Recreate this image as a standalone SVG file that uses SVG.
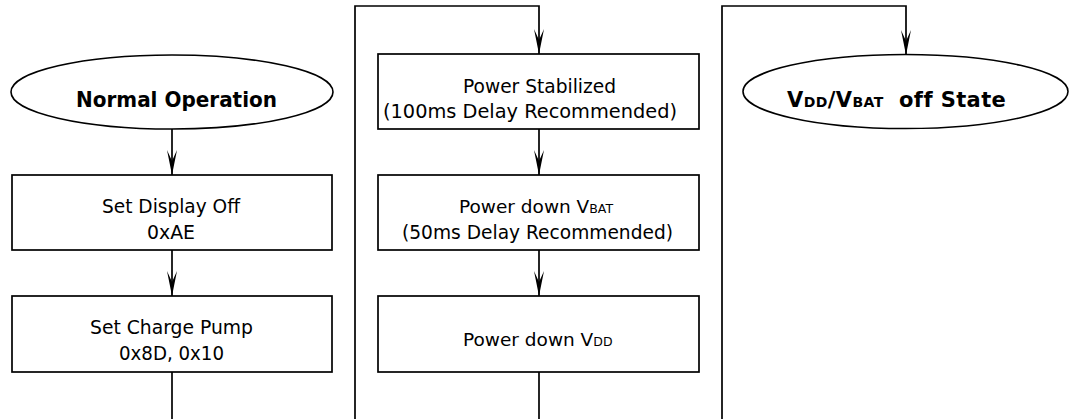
<svg xmlns="http://www.w3.org/2000/svg" width="1076" height="419" viewBox="0 0 1076 419">
<style>
.box{fill:#fff;stroke:#000;stroke-width:1.7}
.ell{fill:#fff;stroke:#000;stroke-width:1.6}
.t{font-family:"DejaVu Sans",sans-serif;font-size:20px;fill:#000}
.t2{font-family:"DejaVu Sans",sans-serif;font-size:18.5px;fill:#000}
.b{font-family:"DejaVu Sans",sans-serif;font-weight:bold;font-size:21px;fill:#000}
.s{font-size:12.5px}
.sb{font-size:14px}
.c{fill:none;stroke:#000;stroke-width:1.7}
</style>
<defs>
<marker id="ah" viewBox="0 0 25 10" refX="25" refY="5" markerWidth="25" markerHeight="10" markerUnits="userSpaceOnUse" orient="auto">
<path d="M0,0 L25,5 L0,10 L11,5 Z" fill="#000"/>
</marker>
</defs>
<rect width="1076" height="419" fill="#fff"/>
<g id="connectors">
<path class="c" d="M172,129 V175" marker-end="url(#ah)"/>
<path class="c" d="M172,250 V296" marker-end="url(#ah)"/>
<path class="c" d="M172,372 V419"/>
<path class="c" d="M355,419 V6 H539 V54" marker-end="url(#ah)"/>
<path class="c" d="M539,129 V175" marker-end="url(#ah)"/>
<path class="c" d="M539,250 V296" marker-end="url(#ah)"/>
<path class="c" d="M539,372 V419"/>
<path class="c" d="M722,419 V6 H906 V55" marker-end="url(#ah)"/>
</g>
<g id="normal-operation">
<ellipse class="ell" cx="172" cy="92" rx="161" ry="37"/>
<text class="b" x="76" y="107" textLength="201" lengthAdjust="spacingAndGlyphs">Normal Operation</text>
</g>
<g id="set-display-off">
<rect class="box" x="12" y="175" width="320" height="75"/>
<text class="t" x="102" y="213" textLength="138" lengthAdjust="spacingAndGlyphs">Set Display Off</text>
<text class="t" x="147" y="239" textLength="48" lengthAdjust="spacingAndGlyphs">0xAE</text>
</g>
<g id="set-charge-pump">
<rect class="box" x="12" y="296" width="320" height="76"/>
<text class="t" x="90" y="334" textLength="163" lengthAdjust="spacingAndGlyphs">Set Charge Pump</text>
<text class="t" x="119" y="360" textLength="105" lengthAdjust="spacingAndGlyphs">0x8D, 0x10</text>
</g>
<g id="power-stabilized">
<rect class="box" x="378" y="54" width="321" height="75"/>
<text class="t" x="463" y="93" textLength="153" lengthAdjust="spacingAndGlyphs">Power Stabilized</text>
<text class="t" x="383" y="118" textLength="294" lengthAdjust="spacingAndGlyphs">(100ms Delay Recommended)</text>
</g>
<g id="power-down-vbat">
<rect class="box" x="378" y="175" width="321" height="75"/>
<text class="t2" x="459" y="213">Power down V<tspan class="s">BAT</tspan></text>
<text class="t" x="402" y="239" textLength="271" lengthAdjust="spacingAndGlyphs">(50ms Delay Recommended)</text>
</g>
<g id="power-down-vdd">
<rect class="box" x="378" y="296" width="321" height="76"/>
<text class="t2" x="463" y="346">Power down V<tspan class="s">DD</tspan></text>
</g>
<g id="off-state">
<ellipse class="ell" cx="905.5" cy="91.5" rx="162.5" ry="37"/>
<text class="b" x="787" y="107" letter-spacing="0.4" xml:space="preserve">V<tspan class="sb">DD</tspan>/V<tspan class="sb">BAT</tspan>  off State</text>
</g>
</svg>
